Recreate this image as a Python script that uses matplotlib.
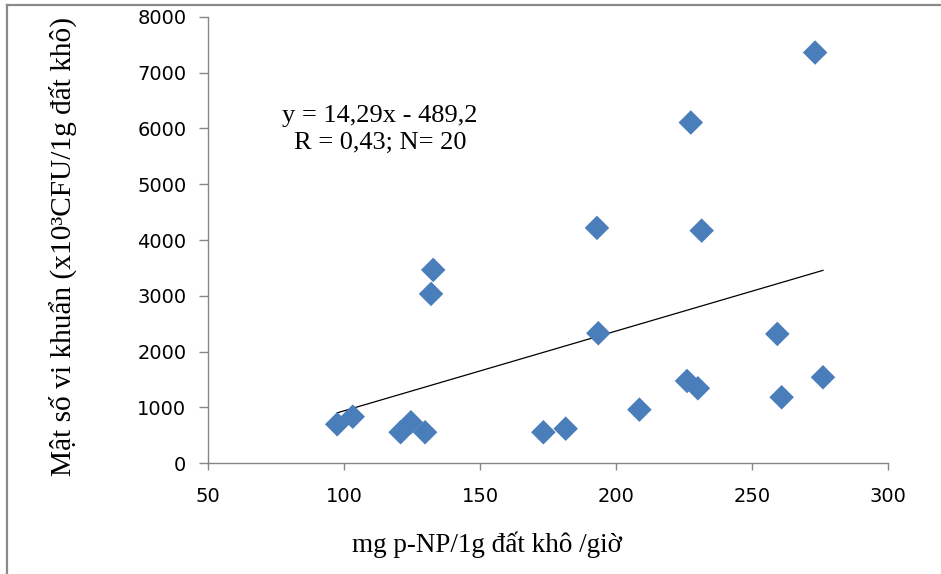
import numpy as np
import matplotlib
matplotlib.use('Agg')
from matplotlib import pyplot as plt
from matplotlib.lines import Line2D

# enzyme activity (mg p-NP / 1g dry soil / hour)
activity = [97.5, 103.2, 120.8, 124.6, 129.8, 132.8, 132.0, 173.3, 181.5, 193.0,
            193.5, 208.6, 226.1, 227.5, 230.1, 231.5, 259.3, 260.9, 273.2, 276.1]
# bacterial density (x10^3 CFU / 1g dry soil)
density = [699, 835, 556, 735, 556, 3464, 3034, 556, 620, 4217,
           2330, 961, 1475, 6104, 1344, 4168, 2317, 1183, 7358, 1541]

slope, intercept = 14.29, -489.2
eq_text = 'y = 14,29x - 489,2'
stat_text = 'R = 0,43; N= 20'

xticks = [50, 100, 150, 200, 250, 300]
yticks = [0, 1000, 2000, 3000, 4000, 5000, 6000, 7000, 8000]

W, H = 941, 574
fig = plt.figure(figsize=(W / 100, H / 100), dpi=100)
ax = fig.add_axes([208 / W, 1 - 463.3 / H, (888 - 208) / W, (463.3 - 16.7) / H])

ax.scatter(activity, density, marker='D', s=12.5 ** 2, color='#4a7ebb',
           edgecolors='none', zorder=3)

xs = np.array([min(activity), max(activity)])
ax.plot(xs, slope * xs + intercept, color='black', lw=0.9, zorder=2)

ax.set_xlim(50, 300)
ax.set_ylim(0, 8000)
ax.set_xticks(xticks)
ax.set_yticks(yticks)
ax.tick_params(axis='both', direction='out', colors='#868686', labelcolor='black',
               labelsize=14, width=1)
ax.tick_params(axis='y', length=6.5, pad=9)
ax.tick_params(axis='x', length=5, pad=12)
for s in ['top', 'right']:
    ax.spines[s].set_visible(False)
for s in ['left', 'bottom']:
    ax.spines[s].set_color('#868686')
    ax.spines[s].set_linewidth(1)

serif = 'Liberation Serif'
fig.text(63 / W, 1 - 246 / H, 'Mật số vi khuẩn (x10³CFU/1g đất khô)', rotation=90,
         ha='center', va='center', family=serif, fontsize=21.2)
fig.text(352 / W, 1 - 545 / H, 'mg p-NP/1g đất khô /giờ', ha='left', va='center',
         family=serif, fontsize=19.5)
fig.text(380 / W, 1 - 116 / H, eq_text, ha='center', va='center', family=serif, fontsize=19)
fig.text(380 / W, 1 - 143 / H, stat_text, ha='center', va='center', family=serif, fontsize=19)

# outer frame (cut on the right and bottom in the original)
frame_x, frame_y = 6.5 / W, 1 - 5 / H
fig.lines.append(Line2D([frame_x, frame_x], [0, frame_y], transform=fig.transFigure,
                        color='#8a8a8a', lw=1.6))
fig.lines.append(Line2D([frame_x, 1], [frame_y, frame_y], transform=fig.transFigure,
                        color='#8a8a8a', lw=1.6))

fig.savefig('out.png', dpi=100)
